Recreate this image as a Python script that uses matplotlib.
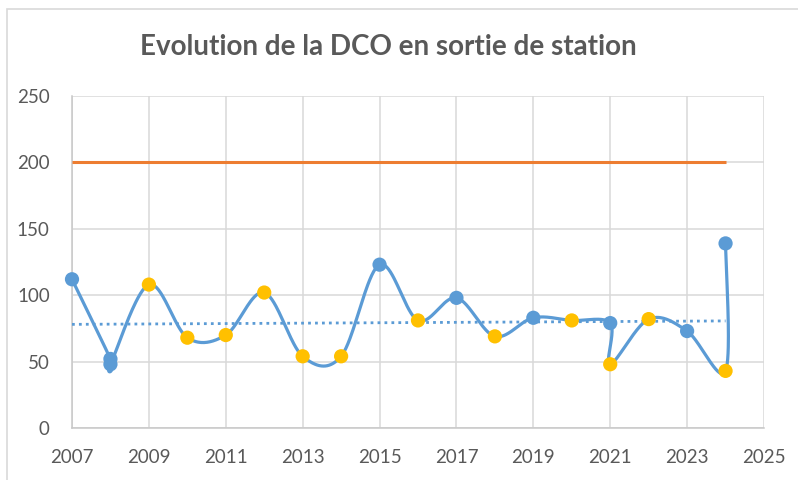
import numpy as np
import matplotlib
matplotlib.use("Agg")
import matplotlib.pyplot as plt
from matplotlib.patches import Rectangle

years = [2007, 2008, 2008, 2009, 2010, 2011, 2012, 2013, 2014, 2015, 2016,
         2017, 2018, 2019, 2020, 2021, 2021, 2022, 2023, 2024, 2024]
dco = [112, 52, 48, 108, 68, 70, 102, 54, 54, 123, 81,
       98, 69, 83, 81, 79, 48, 82, 73, 43, 139]
highlight = [0, 0, 0, 1, 1, 1, 1, 1, 1, 0, 1,
             0, 1, 0, 1, 0, 1, 1, 0, 1, 0]
limit_years = [2007, 2024]
limit_vals = [200, 200]
title = "Evolution de la DCO en sortie de station"
xticks = list(range(2007, 2026, 2))
yticks = list(range(0, 251, 50))

BLUE = "#5B9BD5"
YELLOW = "#FFC000"
ORANGE = "#ED7D31"
GRID = "#D9D9D9"
TXT = "#595959"
FONT = "Lato"

W, H = 798, 480
fig = plt.figure(figsize=(W / 100, H / 100), dpi=100)
fig.patch.set_facecolor("white")
fig.patches.append(Rectangle((7 / W, -0.1), 1.2, (H - 9) / H + 0.1,
                             transform=fig.transFigure, fill=False,
                             edgecolor=GRID, linewidth=1.2))

l, r, t, b = 72, 764, 96, 428
ax = fig.add_axes([l / W, 1 - b / H, (r - l) / W, (b - t) / H])
ax.set_xlim(2007, 2025)
ax.set_ylim(0, 250)

# smooth curve (Excel-like Bezier through points)
x = np.array(years, float)
y = np.array(dco, float)
P = np.column_stack([x, y])
n = len(P)
curve = []
tt = np.linspace(0, 1, 40)
for i in range(n - 1):
    p0 = P[i - 1] if i > 0 else P[i]
    p1, p2 = P[i], P[i + 1]
    p3 = P[i + 2] if i + 2 < n else P[i + 1]
    c1 = p1 + (p2 - p0) / 6
    c2 = p2 - (p3 - p1) / 6
    seg = ((1 - tt) ** 3)[:, None] * p1 + (3 * (1 - tt) ** 2 * tt)[:, None] * c1 \
        + (3 * (1 - tt) * tt ** 2)[:, None] * c2 + (tt ** 3)[:, None] * p2
    curve.append(seg if i == 0 else seg[1:])
curve = np.vstack(curve)

ax.plot(limit_years, limit_vals, color=ORANGE, lw=2.2, zorder=3, solid_capstyle="butt")

coef = np.polyfit(x, y, 1)
tx = np.array([min(years), max(years)])
ax.plot(tx, np.polyval(coef, tx), color=BLUE, lw=2, ls=(0, (1, 1.5)), zorder=3)

ax.plot(curve[:, 0], curve[:, 1], color=BLUE, lw=2.3, zorder=4, clip_on=False)
cols = [YELLOW if h else BLUE for h in highlight]
ax.scatter(x, y, s=105, c=cols, zorder=5, linewidths=0, clip_on=False)

ax.set_xticks(xticks)
ax.set_yticks(yticks)
ax.grid(True, color=GRID, lw=1.1)
ax.set_axisbelow(True)
for s in ["top", "right"]:
    ax.spines[s].set_visible(False)
for s in ["left", "bottom"]:
    ax.spines[s].set_color("#C8C8C8")
    ax.spines[s].set_linewidth(1.1)
ax.tick_params(length=0, labelsize=13.5, labelcolor=TXT)
for lab in ax.get_xticklabels() + ax.get_yticklabels():
    lab.set_fontfamily(FONT)
ax.tick_params(axis="x", pad=15)
ax.tick_params(axis="y", pad=16)

fig.text(388 / W, 1 - 47 / H, title, ha="center", va="center",
         fontsize=20, fontweight="bold", color=TXT, family=FONT)

fig.savefig("out.png", dpi=100)
